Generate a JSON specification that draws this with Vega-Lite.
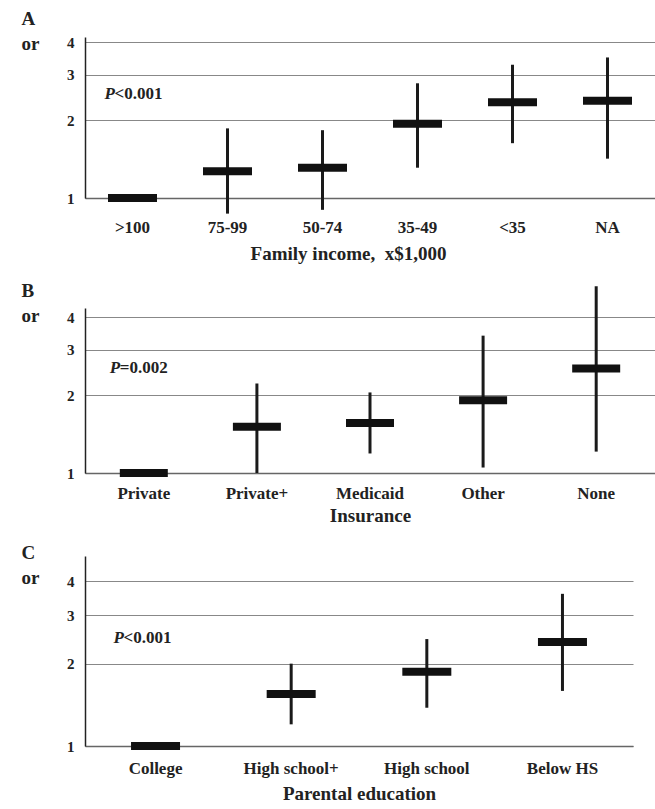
{
  "$schema": "https://vega.github.io/schema/vega-lite/v6.json",
  "padding": {"left": 21, "top": 9, "right": 0, "bottom": 0},
  "spacing": 18,
  "config": {
    "font": "Liberation Serif",
    "view": {"stroke": null},
    "axis": {
      "labelFont": "Liberation Serif",
      "labelFontWeight": "bold",
      "titleFont": "Liberation Serif",
      "titleFontWeight": "bold",
      "labelColor": "#222222",
      "titleColor": "#222222"
    },
    "axisX": {
      "labelAngle": 0,
      "ticks": false,
      "grid": false,
      "domainColor": "#666666",
      "domainWidth": 1.5,
      "labelFontSize": 17,
      "titleFontSize": 19
    },
    "axisY": {
      "format": "d",
      "grid": true,
      "gridColor": "#888888",
      "gridWidth": 1.2,
      "ticks": false,
      "domainColor": "#222222",
      "domainWidth": 1.5,
      "labelFontSize": 15,
      "labelPadding": 11,
      "titleAngle": 0,
      "titleAlign": "left",
      "titleBaseline": "alphabetic",
      "titleX": -64,
      "titleFontSize": 19,
      "titleLineHeight": 25
    }
  },
  "vconcat": [
    {
      "width": 570,
      "height": 161,
      "data": {"values": [
        {"cat": ">100", "or": 1},
        {"cat": "75-99", "or": 1.27, "lo": 0.87, "hi": 1.86},
        {"cat": "50-74", "or": 1.31, "lo": 0.90, "hi": 1.83},
        {"cat": "35-49", "or": 1.94, "lo": 1.31, "hi": 2.78},
        {"cat": "<35", "or": 2.35, "lo": 1.63, "hi": 3.28},
        {"cat": "NA", "or": 2.38, "lo": 1.42, "hi": 3.50}
      ]},
      "encoding": {
        "x": {"field": "cat", "type": "nominal",
              "scale": {"domain": [">100", "75-99", "50-74", "35-49", "<35", "NA"], "paddingInner": 0, "paddingOuter": 0},
              "axis": {"title": "Family income,\u00a0 x$1,000", "labelPadding": 21, "titlePadding": 9, "titleX": 263}}
      },
      "layer": [
        {
          "mark": {"type": "rule", "strokeWidth": 3, "color": "#1a1a1a"},
          "encoding": {
            "y": {"field": "lo", "type": "quantitative",
                  "scale": {"type": "log", "domain": [1, 4.2], "nice": false},
                  "axis": {"values": [1, 2, 3, 4], "title": ["A", "or"], "titleY": -13}},
            "y2": {"field": "hi"}
          }
        },
        {
          "mark": {"type": "tick", "thickness": 8, "size": 49, "color": "#111111", "opacity": 1},
          "encoding": {"y": {"field": "or", "type": "quantitative"}}
        },
        {
          "data": {"values": [{"p": "P", "rest": "<0.001"}]},
          "mark": {"type": "text", "align": "left", "baseline": "middle", "dx": -28, "fontSize": 17, "fontWeight": "bold", "fontStyle": "italic", "color": "#222222"},
          "encoding": {"x": {"datum": ">100"}, "y": {"datum": 2.53}, "text": {"field": "p"}}
        },
        {
          "data": {"values": [{"p": "P", "rest": "<0.001"}]},
          "mark": {"type": "text", "align": "left", "baseline": "middle", "dx": -18, "fontSize": 17, "fontWeight": "bold", "color": "#222222"},
          "encoding": {"x": {"datum": ">100"}, "y": {"datum": 2.53}, "text": {"field": "rest"}}
        }
      ]
    },
    {
      "width": 570,
      "height": 165,
      "data": {"values": [
        {"cat": "Private", "or": 1},
        {"cat": "Private+", "or": 1.51, "lo": 1.0, "hi": 2.22},
        {"cat": "Medicaid", "or": 1.56, "lo": 1.19, "hi": 2.05},
        {"cat": "Other", "or": 1.91, "lo": 1.05, "hi": 3.40},
        {"cat": "None", "or": 2.54, "lo": 1.21, "hi": 5.28}
      ]},
      "encoding": {
        "x": {"field": "cat", "type": "nominal",
              "scale": {"domain": ["Private", "Private+", "Medicaid", "Other", "None"], "paddingInner": 0, "paddingOuter": 0.02},
              "axis": {"title": "Insurance", "labelPadding": 12, "titlePadding": 5}}
      },
      "layer": [
        {
          "mark": {"type": "rule", "strokeWidth": 3, "color": "#1a1a1a"},
          "encoding": {
            "y": {"field": "lo", "type": "quantitative",
                  "scale": {"type": "log", "domain": [1, 4.35], "nice": false},
                  "axis": {"values": [1, 2, 3, 4], "title": ["B", "or"], "titleY": -12}},
            "y2": {"field": "hi"}
          }
        },
        {
          "mark": {"type": "tick", "thickness": 8, "size": 48, "color": "#111111", "opacity": 1},
          "encoding": {"y": {"field": "or", "type": "quantitative"}}
        },
        {
          "data": {"values": [{"p": "P", "rest": "=0.002"}]},
          "mark": {"type": "text", "align": "left", "baseline": "middle", "dx": -34, "fontSize": 17, "fontWeight": "bold", "fontStyle": "italic", "color": "#222222"},
          "encoding": {"x": {"datum": "Private"}, "y": {"datum": 2.56}, "text": {"field": "p"}}
        },
        {
          "data": {"values": [{"p": "P", "rest": "=0.002"}]},
          "mark": {"type": "text", "align": "left", "baseline": "middle", "dx": -24, "fontSize": 17, "fontWeight": "bold", "color": "#222222"},
          "encoding": {"x": {"datum": "Private"}, "y": {"datum": 2.56}, "text": {"field": "rest"}}
        }
      ]
    },
    {
      "width": 548,
      "height": 190,
      "data": {"values": [
        {"cat": "College", "or": 1},
        {"cat": "High school+", "or": 1.55, "lo": 1.20, "hi": 2.0},
        {"cat": "High school", "or": 1.87, "lo": 1.38, "hi": 2.46},
        {"cat": "Below HS", "or": 2.40, "lo": 1.59, "hi": 3.60}
      ]},
      "encoding": {
        "x": {"field": "cat", "type": "nominal",
              "scale": {"domain": ["College", "High school+", "High school", "Below HS"], "paddingInner": 0, "paddingOuter": 0.02},
              "axis": {"title": "Parental education", "labelPadding": 14, "titlePadding": 8}}
      },
      "layer": [
        {
          "mark": {"type": "rule", "strokeWidth": 3, "color": "#1a1a1a"},
          "encoding": {
            "y": {"field": "lo", "type": "quantitative",
                  "scale": {"type": "log", "domain": [1, 4.95], "nice": false},
                  "axis": {"values": [1, 2, 3, 4], "title": ["C", "or"], "titleY": 2}},
            "y2": {"field": "hi"}
          }
        },
        {
          "mark": {"type": "tick", "thickness": 8, "size": 49, "color": "#111111", "opacity": 1},
          "encoding": {"y": {"field": "or", "type": "quantitative"}}
        },
        {
          "data": {"values": [{"p": "P", "rest": "<0.001"}]},
          "mark": {"type": "text", "align": "left", "baseline": "middle", "dx": -42, "fontSize": 17, "fontWeight": "bold", "fontStyle": "italic", "color": "#222222"},
          "encoding": {"x": {"datum": "College"}, "y": {"datum": 2.48}, "text": {"field": "p"}}
        },
        {
          "data": {"values": [{"p": "P", "rest": "<0.001"}]},
          "mark": {"type": "text", "align": "left", "baseline": "middle", "dx": -32, "fontSize": 17, "fontWeight": "bold", "color": "#222222"},
          "encoding": {"x": {"datum": "College"}, "y": {"datum": 2.48}, "text": {"field": "rest"}}
        }
      ]
    }
  ]
}
